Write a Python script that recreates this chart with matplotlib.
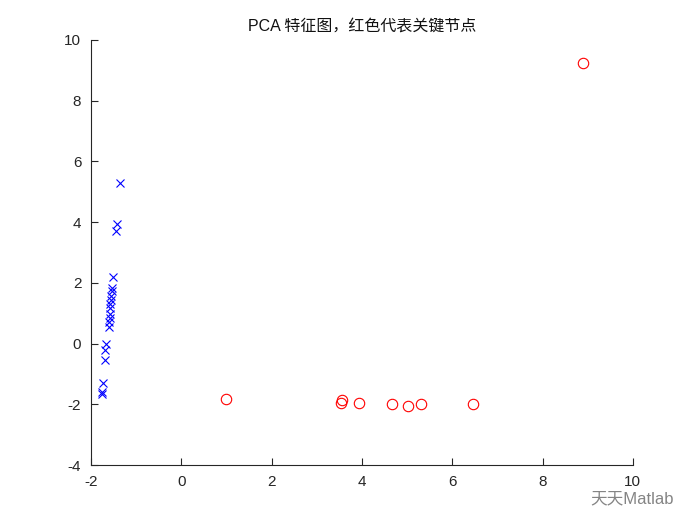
import matplotlib.pyplot as plt

plt.rcParams['font.family'] = ['Liberation Sans', 'Noto Sans CJK SC', 'DejaVu Sans']
plt.rcParams['axes.unicode_minus'] = False

# blue crosses: ordinary nodes
normal_x = [-1.35, -1.42, -1.44, -1.52, -1.53, -1.54, -1.55, -1.56, -1.57, -1.58,
            -1.58, -1.59, -1.60, -1.61, -1.67, -1.68, -1.69, -1.73, -1.76, -1.76]
normal_y = [5.28, 3.93, 3.71, 2.20, 1.84, 1.73, 1.58, 1.44, 1.29, 1.16,
            0.99, 0.85, 0.70, 0.56, 0.00, -0.20, -0.54, -1.31, -1.58, -1.67]

# red circles: key nodes
key_x = [1.00, 3.57, 3.54, 3.94, 4.66, 5.01, 5.31, 6.46, 8.89]
key_y = [-1.83, -1.86, -1.97, -1.94, -1.98, -2.06, -1.98, -2.00, 9.24]

xticks = [-2, 0, 2, 4, 6, 8, 10]
yticks = [-4, -2, 0, 2, 4, 6, 8, 10]

fig = plt.figure(figsize=(7, 5.25), dpi=100)
ax = fig.add_axes([0.13, 0.114, 0.774, 0.81])

ax.plot(normal_x, normal_y, 'x', color='blue', markersize=6, markeredgewidth=0.8)
ax.plot(key_x, key_y, 'o', markerfacecolor='none', markeredgecolor='red',
        markersize=7.5, markeredgewidth=0.8)

ax.set_xlim(-2, 10)
ax.set_ylim(-4, 10)
ax.set_xticks(xticks)
ax.set_yticks(yticks)

for s in ['top', 'right']:
    ax.spines[s].set_visible(False)
for s in ['left', 'bottom']:
    ax.spines[s].set_color('#262626')
    ax.spines[s].set_linewidth(0.8)
ax.tick_params(direction='in', length=5, width=0.8, colors='#262626',
               labelsize=11, pad=7)

ax.set_title('PCA 特征图，红色代表关键节点', fontsize=11.5, color='#111111', pad=7)

# watermark
fig.text(0.843, 0.036, '天天Matlab', fontsize=12, color='#666666', alpha=0.8,
         va='bottom')

fig.savefig('out.png', dpi=100)
